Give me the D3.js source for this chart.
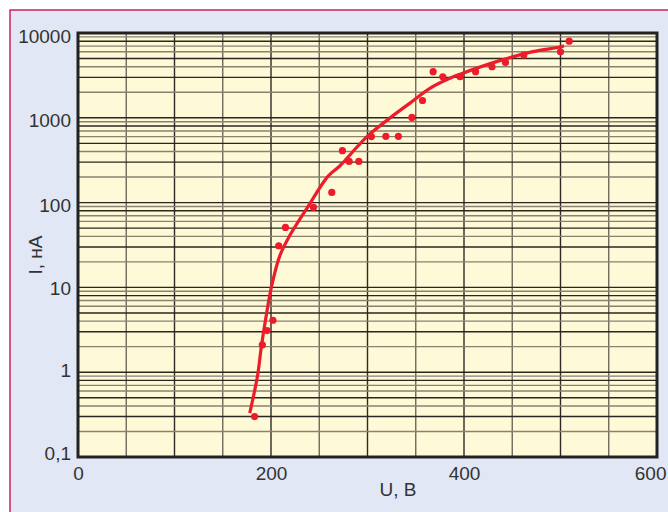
<!DOCTYPE html>
<html>
<head>
<meta charset="utf-8">
<script src="https://cdn.jsdelivr.net/npm/d3@7"></script>
<style>
  html, body { margin: 0; padding: 0; background: #fff; }
  svg { display: block; }
  text { font-family: "Liberation Sans", Arial, sans-serif; fill: #333; }
</style>
</head>
<body>
<svg id="chart" width="668" height="512"></svg>
<script>
// measured points, U in volts, I in nA
const measU = [183, 191, 196, 202, 208, 215, 244, 263, 274, 281, 291, 304, 319, 332, 346, 357, 368, 378, 396, 412, 429, 443, 462, 500, 509];
const measI = [0.3, 2.1, 3.1, 4.1, 31, 51, 88, 132, 410, 306, 306, 600, 605, 605, 1010, 1600, 3500, 3050, 3050, 3500, 4000, 4500, 5500, 6000, 8000];

// fitted curve
const fitU = [178, 186, 190, 195.5, 200.7, 209, 219, 237, 259, 271.5, 282, 299, 323, 344, 365, 385.5, 396, 437, 471.5, 499.5, 503.6];
const fitI = [0.33, 0.9, 2.0, 5.0, 10.4, 23.4, 40, 85, 204, 272, 367, 593, 990, 1490, 2240, 2930, 3270, 4720, 6030, 6840, 7090];

const xTicks = [0, 200, 400, 600];
const yTicks = [0.1, 1, 10, 100, 1000, 10000];
const yLabelShift = [2, 4, 7, 9, 9, 9]; // baseline offset of each y tick label

const svg = d3.select("#chart");

// page background with the pink frame
svg.append("rect").attr("x", 10).attr("y", 10).attr("width", 670).attr("height", 520)
  .attr("fill", "#e1e7f5").attr("stroke", "#d21f64").attr("stroke-width", 1.5);

const x = d3.scaleLinear().domain([0, 600]).range([78, 657]);
const y = d3.scaleLog().domain([0.1, 10000]).range([457, 33]);

svg.append("rect")
  .attr("x", x(0)).attr("y", y(10000))
  .attr("width", x(600) - x(0)).attr("height", y(0.1) - y(10000))
  .attr("fill", "#fef9d6");

// grid
const grid = svg.append("g");
const vLines = d3.range(50, 600, 50);
grid.selectAll(".v").data(vLines).enter().append("line")
  .attr("x1", d => x(d)).attr("x2", d => x(d))
  .attr("y1", y(10000)).attr("y2", y(0.1))
  .attr("stroke", (d, i) => i % 2 ? "#2e2a26" : "#6f685c")
  .attr("stroke-width", 1.4);

const hLines = [];
[0.1, 1, 10, 100, 1000].forEach(dec => {
  for (let k = 2; k <= 10; k++) hLines.push({ v: k * dec, k: k });
});
grid.selectAll(".h").data(hLines.filter(d => d.v < 10000)).enter().append("line")
  .attr("x1", x(0)).attr("x2", x(600))
  .attr("y1", d => y(d.v)).attr("y2", d => y(d.v))
  .attr("stroke", d => (d.k === 10 || d.k === 5 || d.k === 8 || d.k === 3) ? "#2a2622" : "#8a8170")
  .attr("stroke-width", 1.4);

// frame
svg.append("rect")
  .attr("x", x(0)).attr("y", y(10000))
  .attr("width", x(600) - x(0)).attr("height", y(0.1) - y(10000))
  .attr("fill", "none").attr("stroke", "#222").attr("stroke-width", 3);

// axes
const fmt = d => String(d).replace(".", ",");
const gx = svg.append("g").attr("transform", `translate(0,${y(0.1)})`)
  .call(d3.axisBottom(x).tickValues(xTicks).tickSize(0).tickPadding(10).tickFormat(fmt));
gx.select(".domain").remove();
gx.selectAll("text").attr("font-size", 19).attr("font-family", null)
  .attr("text-anchor", d => d === 600 ? "end" : "middle")
  .attr("x", d => d === 600 ? 9 : 0);

const gy = svg.append("g").attr("transform", `translate(${x(0)},0)`)
  .call(d3.axisLeft(y).tickValues(yTicks).tickSize(0).tickPadding(7).tickFormat(fmt));
gy.select(".domain").remove();
gy.selectAll("text").attr("font-size", 19).attr("font-family", null)
  .attr("dy", null).attr("y", (d, i) => yLabelShift[i]);

// axis titles
svg.append("text").attr("x", 398).attr("y", 496).attr("text-anchor", "middle")
  .attr("font-size", 19).text("U, В");
svg.append("text").attr("transform", "translate(42,255) rotate(-90)")
  .attr("text-anchor", "middle").attr("font-size", 19).text("I, нА");

// curve and points
const fit = fitU.map((u, i) => [u, fitI[i]]);
svg.append("path").datum(fit)
  .attr("d", d3.line().x(d => x(d[0])).y(d => y(d[1])).curve(d3.curveCatmullRom.alpha(0.5)))
  .attr("fill", "none").attr("stroke", "#ec1c2a").attr("stroke-width", 3.2)
  .attr("stroke-linejoin", "round");

const meas = measU.map((u, i) => [u, measI[i]]);
svg.selectAll(".pt").data(meas).enter().append("circle")
  .attr("cx", d => x(d[0])).attr("cy", d => y(d[1])).attr("r", 3.6)
  .attr("fill", "#ec1c2a");
</script>
</body>
</html>
